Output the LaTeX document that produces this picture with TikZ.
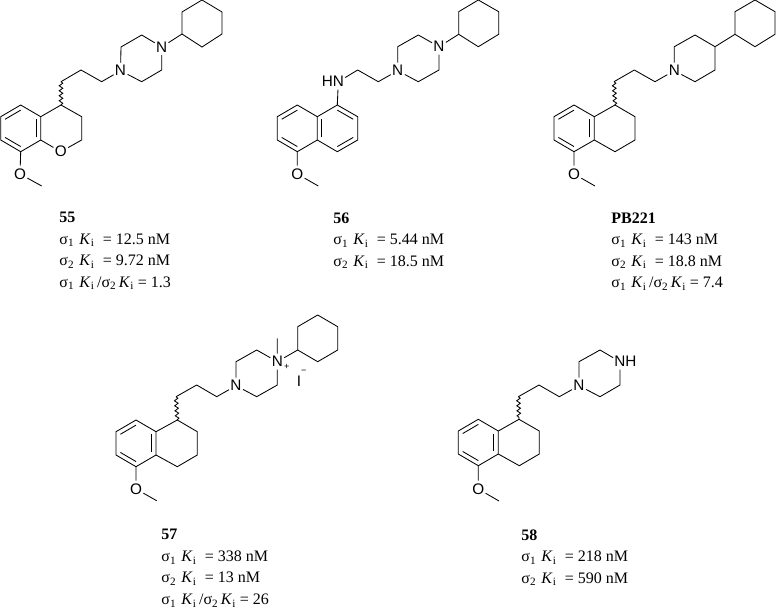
\documentclass[tikz,border=0pt]{standalone}
\usepackage{fontspec}
\setmainfont{Liberation Serif}
\newfontfamily\atomfont{Liberation Sans}
\usetikzlibrary{calc,decorations.pathmorphing}
\newcommand{\sigmaKi}[1]{σ\textsubscript{#1}\,\,\textit{K}\textsubscript{i}}
\newcommand{\eqgap}{\kern4.5pt}
\newcommand{\innerbond}[3]{\draw ($(#1)!.78!(#2)$) -- ($(#1)!.78!(#3)$);}
\tikzset{
  bond/.style={line width=0.85pt,black},
  wavybond/.style={bond,decorate,decoration={snake,amplitude=1.8pt,segment length=5pt}},
  atom/.style={circle,inner sep=0pt,font=\atomfont\fontsize{15.3}{15.3}\selectfont},
  charge/.style={inner sep=0pt,font=\atomfont\fontsize{9}{9}\selectfont},
  datablock/.style={anchor=north west,inner sep=0pt,align=left,font=\fontsize{16}{21.5}\selectfont}
}
\begin{document}
\begin{tikzpicture}[x=1pt,y=-1pt,every path/.style={bond}]
\useasboundingbox (0,0) rectangle (776,608);
% compound 55
\coordinate (chxA1) at (202,0);
\coordinate (chxA2) at (222,12);
\coordinate (chxA3) at (222,34);
\coordinate (chxA4) at (202,47);
\coordinate (chxA5) at (182,34);
\coordinate (chxA6) at (182,12);
\node [atom] (nA1) at (161.7,47) {N};
\coordinate (pipA2) at (141.7,35);
\coordinate (pipA3) at (121,47);
\node [atom] (nA4) at (120.5,70.7) {N};
\coordinate (pipA5) at (141.7,81.7);
\coordinate (pipA6) at (161.7,70);
\coordinate (linkA1) at (101.7,81.7);
\coordinate (linkA2) at (81,70);
\coordinate (linkA3) at (61,81.7);
\coordinate (satA1) at (61,105);
\coordinate (satA2) at (81.7,116.7);
\coordinate (satA3) at (81.7,140);
\node [atom] (oA) at (60.7,151.7) {O};
\coordinate (fusA1) at (40.7,140);
\coordinate (fusA2) at (40.7,116.7);
\coordinate (arA1) at (20.7,105);
\coordinate (arA2) at (0.7,116.7);
\coordinate (arA3) at (0.7,140);
\coordinate (arA4) at (20.7,151.7);
\coordinate (ctrA) at (20.7,128.3);
\node [atom] (omeA) at (20,174) {O};
\coordinate (meA) at (41.7,186);
\draw (chxA1) -- (chxA2) -- (chxA3) -- (chxA4) -- (chxA5) -- (chxA6) -- (chxA1);
\draw (chxA5) -- (nA1);
\draw (nA1) -- (pipA2) -- (pipA3) -- (nA4) -- (pipA5) -- (pipA6) -- (nA1);
\draw (nA4) -- (linkA1) -- (linkA2) -- (linkA3);
\draw [wavybond] (linkA3) -- (satA1);
\draw (satA1) -- (satA2) -- (satA3) -- (oA) -- (fusA1) -- (fusA2) -- (satA1);
\draw (fusA2) -- (arA1) -- (arA2) -- (arA3) -- (arA4) -- (fusA1);
\innerbond{ctrA}{arA1}{arA2}
\innerbond{ctrA}{arA3}{arA4}
\innerbond{ctrA}{fusA1}{fusA2}
\draw (arA4) -- (omeA) -- (meA);
\node [datablock] (dataA) at (59,212) {\textbf{55}\\\sigmaKi{1}\eqgap{} = 12.5 nM\\\sigmaKi{2}\eqgap{} = 9.72 nM\\\sigmaKi{1}\,/σ\textsubscript{2}\,\textit{K}\textsubscript{i} = 1.3};
% compound 56
\coordinate (chxB1) at (478.3,0);
\coordinate (chxB2) at (498.7,11.7);
\coordinate (chxB3) at (498.7,34.3);
\coordinate (chxB4) at (478.3,46.7);
\coordinate (chxB5) at (458.7,34.3);
\coordinate (chxB6) at (458.7,11.7);
\node [atom] (nB1) at (439,46.7) {N};
\coordinate (pipB2) at (418.3,35);
\coordinate (pipB3) at (397.7,46.7);
\node [atom] (nB4) at (397.7,70.7) {N};
\coordinate (pipB5) at (418.3,81.7);
\coordinate (pipB6) at (439,70);
\coordinate (linkB1) at (378.3,81.7);
\coordinate (linkB2) at (357.7,70);
\node [atom] (nhB) at (338.3,81.7) {N};
\node [atom] (hB) at ([xshift=-11pt]nhB.center) {H};
\coordinate (arB1) at (337.3,105);
\coordinate (arB2) at (357.7,116.7);
\coordinate (arB3) at (357.7,140);
\coordinate (arB4) at (337.3,151.7);
\coordinate (fusB1) at (317.3,140);
\coordinate (fusB2) at (317.3,116.7);
\coordinate (arB5) at (297.3,105);
\coordinate (arB6) at (277.3,116.7);
\coordinate (arB7) at (277.3,140);
\coordinate (arB8) at (297.3,151.7);
\coordinate (ctrB) at (297.3,128.3);
\coordinate (ctrBb) at (337.3,128.3);
\node [atom] (omeB) at (297.3,174) {O};
\coordinate (meB) at (318.3,186);
\draw (chxB1) -- (chxB2) -- (chxB3) -- (chxB4) -- (chxB5) -- (chxB6) -- (chxB1);
\draw (chxB5) -- (nB1);
\draw (nB1) -- (pipB2) -- (pipB3) -- (nB4) -- (pipB5) -- (pipB6) -- (nB1);
\draw (nB4) -- (linkB1) -- (linkB2) -- (nhB) -- (arB1);
\draw (arB1) -- (arB2) -- (arB3) -- (arB4) -- (fusB1) -- (fusB2) -- (arB1);
\draw (fusB2) -- (arB5) -- (arB6) -- (arB7) -- (arB8) -- (fusB1);
\innerbond{ctrBb}{arB1}{arB2}
\innerbond{ctrBb}{arB3}{arB4}
\innerbond{ctrB}{arB5}{arB6}
\innerbond{ctrB}{arB7}{arB8}
\innerbond{ctrBb}{fusB1}{fusB2}
\draw (arB8) -- (omeB) -- (meB);
\node [datablock] (dataB) at (333,212) {\textbf{56}\\\sigmaKi{1}\eqgap{} = 5.44 nM\\\sigmaKi{2}\eqgap{} = 18.5 nM};
% compound PB221
\coordinate (chxC1) at (755,0);
\coordinate (chxC2) at (775,11.7);
\coordinate (chxC3) at (775,34.3);
\coordinate (chxC4) at (755,46.7);
\coordinate (chxC5) at (735,34.3);
\coordinate (chxC6) at (735,11.7);
\coordinate (pipC1) at (715,46.7);
\coordinate (pipC2) at (695,35);
\coordinate (pipC3) at (674.3,46.7);
\node [atom] (nC4) at (674.3,70.7) {N};
\coordinate (pipC5) at (695,81.7);
\coordinate (pipC6) at (715,70);
\coordinate (linkC1) at (655,81.7);
\coordinate (linkC2) at (634.3,70);
\coordinate (linkC3) at (614,81.7);
\coordinate (satC1) at (615,105);
\coordinate (satC2) at (635,116.7);
\coordinate (satC3) at (635,140);
\coordinate (satC4) at (615,151.7);
\coordinate (fusC1) at (594.3,140);
\coordinate (fusC2) at (594.3,116.7);
\coordinate (arC1) at (574,105);
\coordinate (arC2) at (554,116.7);
\coordinate (arC3) at (554,140);
\coordinate (arC4) at (574,151.7);
\coordinate (ctrC) at (574,128.3);
\node [atom] (omeC) at (574,174) {O};
\coordinate (meC) at (595,186);
\draw (chxC1) -- (chxC2) -- (chxC3) -- (chxC4) -- (chxC5) -- (chxC6) -- (chxC1);
\draw (chxC5) -- (pipC1);
\draw (pipC1) -- (pipC2) -- (pipC3) -- (nC4) -- (pipC5) -- (pipC6) -- (pipC1);
\draw (nC4) -- (linkC1) -- (linkC2) -- (linkC3);
\draw [wavybond] (linkC3) -- (satC1);
\draw (satC1) -- (satC2) -- (satC3) -- (satC4) -- (fusC1) -- (fusC2) -- (satC1);
\draw (fusC2) -- (arC1) -- (arC2) -- (arC3) -- (arC4) -- (fusC1);
\innerbond{ctrC}{arC1}{arC2}
\innerbond{ctrC}{arC3}{arC4}
\innerbond{ctrC}{fusC1}{fusC2}
\draw (arC4) -- (omeC) -- (meC);
\node [datablock] (dataC) at (611,212) {\textbf{PB221}\\\sigmaKi{1}\eqgap{} = 143 nM\\\sigmaKi{2}\eqgap{} = 18.8 nM\\\sigmaKi{1}\,/σ\textsubscript{2}\,\textit{K}\textsubscript{i} = 7.4};
% compound 57
\coordinate (chxD1) at (317.7,315);
\coordinate (chxD2) at (337.7,326.7);
\coordinate (chxD3) at (337.7,350);
\coordinate (chxD4) at (317.7,361.7);
\coordinate (chxD5) at (297.7,350);
\coordinate (chxD6) at (297.7,326.7);
\node [atom] (nD1) at (277.3,361.7) {N};
\node [charge] (plusD) at (286.7,367.3) {+};
\coordinate (meDb) at (277.3,338.3);
\coordinate (pipD2) at (256.7,350);
\coordinate (pipD3) at (236,361.7);
\node [atom] (nD4) at (236,385.7) {N};
\coordinate (pipD5) at (256.7,396.7);
\coordinate (pipD6) at (277.3,385);
\node [atom] (iodD) at (299,381.7) {I};
\node [charge] (minusD) at (303.7,371.5) {−};
\coordinate (linkD1) at (216.7,396.7);
\coordinate (linkD2) at (196.7,385);
\coordinate (linkD3) at (176,396.7);
\coordinate (satD1) at (177.3,420);
\coordinate (satD2) at (197.3,431.7);
\coordinate (satD3) at (197.3,455);
\coordinate (satD4) at (177.3,466.7);
\coordinate (fusD1) at (156,455);
\coordinate (fusD2) at (156,431.7);
\coordinate (arD1) at (136,420);
\coordinate (arD2) at (116,431.7);
\coordinate (arD3) at (116,455);
\coordinate (arD4) at (136,466.7);
\coordinate (ctrD) at (136,443.3);
\node [atom] (omeD) at (136,489) {O};
\coordinate (meD) at (156.7,500.7);
\draw (chxD1) -- (chxD2) -- (chxD3) -- (chxD4) -- (chxD5) -- (chxD6) -- (chxD1);
\draw (chxD5) -- (nD1) -- (meDb);
\draw (nD1) -- (pipD2) -- (pipD3) -- (nD4) -- (pipD5) -- (pipD6) -- (nD1);
\draw (nD4) -- (linkD1) -- (linkD2) -- (linkD3);
\draw [wavybond] (linkD3) -- (satD1);
\draw (satD1) -- (satD2) -- (satD3) -- (satD4) -- (fusD1) -- (fusD2) -- (satD1);
\draw (fusD2) -- (arD1) -- (arD2) -- (arD3) -- (arD4) -- (fusD1);
\innerbond{ctrD}{arD1}{arD2}
\innerbond{ctrD}{arD3}{arD4}
\innerbond{ctrD}{fusD1}{fusD2}
\draw (arD4) -- (omeD) -- (meD);
\node [datablock] (dataD) at (161,529) {\textbf{57}\\\sigmaKi{1}\eqgap{} = 338 nM\\\sigmaKi{2}\eqgap{} = 13 nM\\\sigmaKi{1}\,/σ\textsubscript{2}\,\textit{K}\textsubscript{i} = 26};
% compound 58
\node [atom] (nE1) at (620,361.7) {N};
\node [atom] (hE) at ([xshift=11pt]nE1.center) {H};
\coordinate (pipE2) at (600,350);
\coordinate (pipE3) at (579,361.7);
\node [atom] (nE4) at (579,385.7) {N};
\coordinate (pipE5) at (600,396.7);
\coordinate (pipE6) at (620,385);
\coordinate (linkE1) at (559.3,396.7);
\coordinate (linkE2) at (539,385);
\coordinate (linkE3) at (518.3,396.7);
\coordinate (satE1) at (519,419.3);
\coordinate (satE2) at (539.3,431);
\coordinate (satE3) at (539.3,454);
\coordinate (satE4) at (519.3,465.7);
\coordinate (fusE1) at (498.3,454);
\coordinate (fusE2) at (498.3,431);
\coordinate (arE1) at (478.3,419.3);
\coordinate (arE2) at (458.3,431);
\coordinate (arE3) at (458.3,454);
\coordinate (arE4) at (478.3,465.7);
\coordinate (ctrE) at (478.3,442.5);
\node [atom] (omeE) at (478.3,489) {O};
\coordinate (meE) at (499,501);
\draw (nE1) -- (pipE2) -- (pipE3) -- (nE4) -- (pipE5) -- (pipE6) -- (nE1);
\draw (nE4) -- (linkE1) -- (linkE2) -- (linkE3);
\draw [wavybond] (linkE3) -- (satE1);
\draw (satE1) -- (satE2) -- (satE3) -- (satE4) -- (fusE1) -- (fusE2) -- (satE1);
\draw (fusE2) -- (arE1) -- (arE2) -- (arE3) -- (arE4) -- (fusE1);
\innerbond{ctrE}{arE1}{arE2}
\innerbond{ctrE}{arE3}{arE4}
\innerbond{ctrE}{fusE1}{fusE2}
\draw (arE4) -- (omeE) -- (meE);
\node [datablock] (dataE) at (521,529) {\textbf{58}\\\sigmaKi{1}\eqgap{} = 218 nM\\\sigmaKi{2}\eqgap{} = 590 nM};
\end{tikzpicture}
\end{document}
